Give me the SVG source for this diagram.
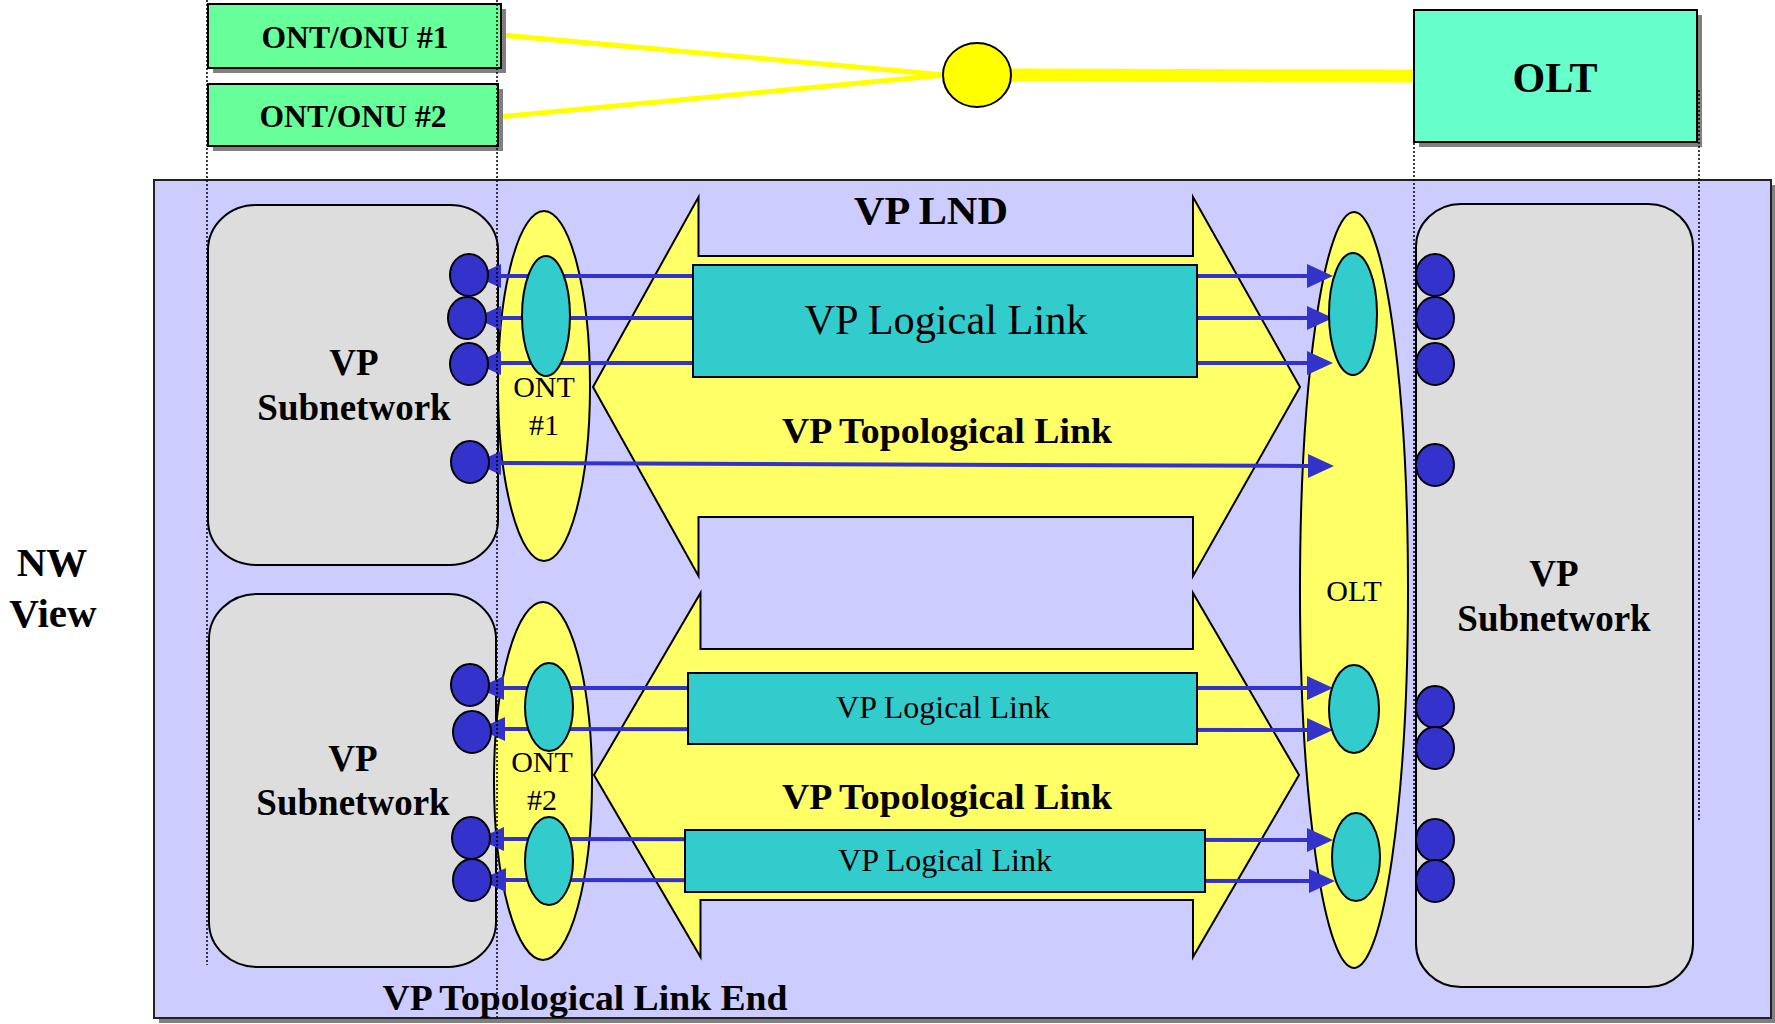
<svg xmlns="http://www.w3.org/2000/svg" width="1775" height="1024" viewBox="0 0 1775 1024">
  <defs>
    <style>
      .shadow { fill: #808080; }
      .ln { stroke: #000; stroke-width: 2; }
      .ont-box { fill: #66FF99; }
      .olt-box { fill: #66FFCC; }
      .panel { fill: #CCCCFF; stroke: #222; stroke-width: 2; }
      .subnet { fill: #DDDDDD; stroke: #000; stroke-width: 2; }
      .yellow { fill: #FFFF66; stroke: #000; stroke-width: 2; }
      .teal { fill: #33CCCC; stroke: #000; stroke-width: 2; }
      .port { fill: #3333CC; stroke: #000; stroke-width: 2; }
      .fiber { stroke: #FFFF00; fill: none; }
      .guide { stroke: #000; stroke-width: 1.5; stroke-dasharray: 2 2; fill: none; }
      .link { stroke: #3333CC; stroke-width: 4; fill: none; marker-start: url(#arrow-back); marker-end: url(#arrow); }
      .t { font-family: "Liberation Serif", "Times New Roman", serif; text-anchor: middle; fill: #000; }
      .b { font-weight: bold; }
    </style>
    <marker id="arrow" viewBox="0 0 26 24" markerUnits="userSpaceOnUse" markerWidth="26" markerHeight="24" refX="1" refY="12" orient="auto">
      <path d="M0,0 L26,12 L0,24 Z" fill="#3333CC"/>
    </marker>
    <marker id="arrow-back" viewBox="0 0 26 24" markerUnits="userSpaceOnUse" markerWidth="26" markerHeight="24" refX="1" refY="12" orient="auto-start-reverse">
      <path d="M0,0 L26,12 L0,24 Z" fill="#3333CC"/>
    </marker>
  </defs>

  <rect x="0" y="0" width="1775" height="1024" fill="#FFFFFF"/>

  <!-- physical view: ONUs, splitter, OLT -->
  <g id="fiber-links">
    <line class="fiber" x1="501" y1="35" x2="945" y2="75" stroke-width="5"/>
    <line class="fiber" x1="498" y1="117" x2="945" y2="75" stroke-width="5"/>
    <line class="fiber" x1="1009" y1="75" x2="1414" y2="76" stroke-width="13"/>
  </g>

  <g id="ont-onu-1">
    <rect class="shadow" x="213" y="9" width="293" height="64"/>
    <rect class="ont-box ln" x="208" y="4" width="293" height="64"/>
    <text class="t b" x="355" y="48" font-size="31" textLength="187" lengthAdjust="spacingAndGlyphs">ONT/ONU #1</text>
  </g>
  <g id="ont-onu-2">
    <rect class="shadow" x="213" y="89" width="290" height="62"/>
    <rect class="ont-box ln" x="208" y="84" width="290" height="62"/>
    <text class="t b" x="353" y="127" font-size="31" textLength="187" lengthAdjust="spacingAndGlyphs">ONT/ONU #2</text>
  </g>
  <g id="splitter">
    <ellipse cx="977" cy="75" rx="34" ry="32" fill="#FFFF00" stroke="#000" stroke-width="2"/>
  </g>
  <g id="olt-box">
    <rect class="shadow" x="1419" y="15" width="283" height="132"/>
    <rect class="olt-box ln" x="1414" y="10" width="283" height="132"/>
    <text class="t b" x="1555" y="92" font-size="42">OLT</text>
  </g>

  <!-- network view -->
  <g id="nw-panel">
    <rect class="shadow" x="159" y="185" width="1617" height="838"/>
    <rect class="panel" x="154" y="180" width="1617" height="838"/>
  </g>

  <g id="nw-view-label">
    <text class="t b" x="52" y="576" font-size="41">NW</text>
    <text class="t b" x="53" y="627" font-size="41">View</text>
  </g>

  <g id="subnetwork-ont1">
    <rect class="subnet" x="208" y="205" width="290" height="360" rx="48" ry="45"/>
    <text class="t b" x="354" y="375" font-size="37">VP</text>
    <text class="t b" x="354" y="420" font-size="37">Subnetwork</text>
  </g>
  <g id="subnetwork-ont2">
    <rect class="subnet" x="209" y="594" width="287" height="373" rx="48" ry="45"/>
    <text class="t b" x="353" y="771" font-size="37">VP</text>
    <text class="t b" x="353" y="815" font-size="37">Subnetwork</text>
  </g>
  <g id="subnetwork-olt">
    <rect class="subnet" x="1416" y="204" width="277" height="783" rx="45" ry="43"/>
    <text class="t b" x="1554" y="586" font-size="37">VP</text>
    <text class="t b" x="1554" y="631" font-size="37">Subnetwork</text>
  </g>

  <g id="ont1">
    <ellipse class="yellow" cx="544" cy="386" rx="46" ry="175"/>
  </g>
  <g id="ont2">
    <ellipse class="yellow" cx="543" cy="781" rx="49" ry="179"/>
  </g>
  <g id="olt">
    <ellipse class="yellow" cx="1354" cy="590" rx="54" ry="378"/>
  </g>

  <g id="topological-link-1">
    <path class="yellow" d="M593,387 L698.5,197 L698.5,256 L1193,256 L1193,197 L1300,387 L1193,576 L1193,517 L698.5,517 L698.5,576 Z"/>
  </g>
  <g id="topological-link-2">
    <path class="yellow" d="M594,775 L700.5,593 L700.5,649 L1193,649 L1193,593 L1299,775 L1193,957 L1193,900 L700.5,900 L700.5,957 Z"/>
  </g>

  <!-- VP connections between termination points -->
  <g id="connectors">
    <line class="link" x1="500" y1="276" x2="1308" y2="276"/>
    <line class="link" x1="500" y1="318" x2="1308" y2="318"/>
    <line class="link" x1="500" y1="363" x2="1308" y2="363"/>
    <line class="link" x1="500" y1="463" x2="1309" y2="466"/>
    <line class="link" x1="503" y1="688" x2="1308" y2="688"/>
    <line class="link" x1="504" y1="729" x2="1308" y2="730"/>
    <line class="link" x1="503" y1="839" x2="1308" y2="840"/>
    <line class="link" x1="505" y1="880" x2="1310" y2="881"/>
  </g>

  <g id="logical-link-1">
    <rect class="teal" x="693" y="265" width="504" height="112"/>
    <text class="t" x="946" y="334" font-size="42" textLength="283" lengthAdjust="spacingAndGlyphs">VP Logical Link</text>
  </g>
  <g id="logical-link-2">
    <rect class="teal" x="688" y="673" width="509" height="71"/>
    <text class="t" x="943" y="718" font-size="32">VP Logical Link</text>
  </g>
  <g id="logical-link-3">
    <rect class="teal" x="685" y="830" width="520" height="62"/>
    <text class="t" x="945" y="871" font-size="32">VP Logical Link</text>
  </g>

  <g id="ont1-port">
    <ellipse class="teal" cx="546" cy="316" rx="24" ry="60"/>
  </g>
  <g id="ont2-port-a">
    <ellipse class="teal" cx="549" cy="707" rx="24" ry="44"/>
  </g>
  <g id="ont2-port-b">
    <ellipse class="teal" cx="549" cy="861" rx="24" ry="44"/>
  </g>
  <g id="olt-port-1">
    <ellipse class="teal" cx="1353" cy="314" rx="24" ry="61"/>
  </g>
  <g id="olt-port-2">
    <ellipse class="teal" cx="1354" cy="709" rx="25" ry="44"/>
  </g>
  <g id="olt-port-3">
    <ellipse class="teal" cx="1356" cy="857" rx="24" ry="44"/>
  </g>

  <g id="link-ends-ont1">
    <ellipse class="port" cx="469" cy="275" rx="19" ry="21"/>
    <ellipse class="port" cx="467" cy="318" rx="19" ry="21"/>
    <ellipse class="port" cx="469" cy="364" rx="19" ry="21"/>
    <ellipse class="port" cx="470" cy="462" rx="19" ry="21"/>
  </g>
  <g id="link-ends-ont2">
    <ellipse class="port" cx="470" cy="685" rx="19" ry="21"/>
    <ellipse class="port" cx="472" cy="732" rx="19" ry="21"/>
    <ellipse class="port" cx="471" cy="838" rx="19" ry="21"/>
    <ellipse class="port" cx="472" cy="880" rx="19" ry="21"/>
  </g>
  <g id="link-ends-olt">
    <ellipse class="port" cx="1435" cy="275" rx="19" ry="21"/>
    <ellipse class="port" cx="1435" cy="318" rx="19" ry="21"/>
    <ellipse class="port" cx="1435" cy="364" rx="19" ry="21"/>
    <ellipse class="port" cx="1435" cy="465" rx="19" ry="21"/>
    <ellipse class="port" cx="1435" cy="707" rx="19" ry="21"/>
    <ellipse class="port" cx="1435" cy="748" rx="19" ry="21"/>
    <ellipse class="port" cx="1435" cy="840" rx="19" ry="21"/>
    <ellipse class="port" cx="1435" cy="881" rx="19" ry="21"/>
  </g>

  <g id="labels">
    <text class="t b" x="931" y="224" font-size="40" textLength="154" lengthAdjust="spacingAndGlyphs">VP LND</text>
    <text class="t b" x="947" y="443" font-size="35" textLength="330" lengthAdjust="spacingAndGlyphs">VP Topological Link</text>
    <text class="t b" x="947" y="809" font-size="35" textLength="330" lengthAdjust="spacingAndGlyphs">VP Topological Link</text>
    <text class="t" x="544" y="397" font-size="30">ONT</text>
    <text class="t" x="544" y="435" font-size="30">#1</text>
    <text class="t" x="542" y="772" font-size="30">ONT</text>
    <text class="t" x="542" y="810" font-size="30">#2</text>
    <text class="t" x="1354" y="601" font-size="30">OLT</text>
    <text class="t b" x="585" y="1010" font-size="35" textLength="405" lengthAdjust="spacingAndGlyphs">VP Topological Link End</text>
  </g>

  <!-- projection guides from the physical equipment down into the network view -->
  <g id="guides">
    <line class="guide" x1="207" y1="0" x2="207" y2="965"/>
    <line class="guide" x1="497" y1="0" x2="497" y2="1018"/>
    <line class="guide" x1="1414" y1="143" x2="1414" y2="824"/>
    <line class="guide" x1="1699" y1="90" x2="1699" y2="820"/>
  </g>
</svg>
